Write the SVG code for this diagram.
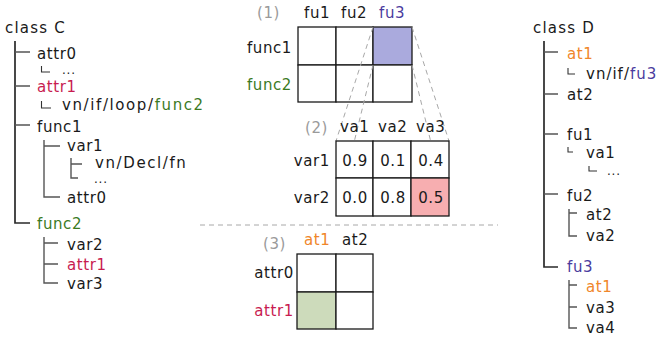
<svg xmlns="http://www.w3.org/2000/svg" width="661" height="340" viewBox="0 0 661 340">
  <style>
    text { font-family: "DejaVu Sans", "Liberation Sans", sans-serif; font-size: 15px; fill: #1a1a1a; letter-spacing: 0.6px; }
    .title { letter-spacing: 1.2px; }
    .path { letter-spacing: 1.6px; }
    .dots { font-size: 12px; letter-spacing: 0.8px; fill: #1a1a1a; }
    .tag { fill: #9a9a9a; }
    .red { fill: #c81c50; }
    .green { fill: #3b7a1f; }
    .purple { fill: #4a3b9e; }
    .orange { fill: #f0862a; }
    .end { text-anchor: end; }
    .mid { text-anchor: middle; }
    .trunk { fill: none; stroke: #2a2a2a; stroke-width: 1.7; }
    .branch { fill: none; stroke: #555; stroke-width: 1.4; }
    .elbow { fill: none; stroke: #333; stroke-width: 1.1; }
    .cell { fill: #fff; stroke: #1a1a1a; stroke-width: 1.3; }
    .proj { fill: none; stroke: #a8a8a8; stroke-width: 1; stroke-dasharray: 5 4; }
  </style>

  <!-- class C tree -->
  <g id="class-C">
    <text x="5" y="33" class="title">class C</text>
    <path class="trunk" d="M15,41 V223 H30"/>
    <path class="branch" d="M15,52 H30 M15,86 H30 M15,125 H30"/>
    <text x="37" y="59">attr0</text>
    <path class="elbow" d="M41.5,66 V72 H50"/>
    <text x="62" y="74" class="dots">...</text>
    <text x="37" y="92" class="red">attr1</text>
    <path class="elbow" d="M41.5,101 V108 H51"/>
    <text x="62" y="110" class="path">vn/if/loop/<tspan class="green">func2</tspan></text>
    <text x="37" y="132">func1</text>
    <path class="branch" d="M44,140 V197 H60 M44,146 H60"/>
    <text x="67" y="151">var1</text>
    <path class="branch" d="M71,158 V178 H78 M71,164 H82"/>
    <text x="95" y="168" class="path">vn/Decl/fn</text>
    <text x="94" y="183" class="dots">...</text>
    <text x="67" y="203">attr0</text>
    <text x="37" y="229" class="green">func2</text>
    <path class="branch" d="M44,237 V283 H58 M44,243 H58 M44,264 H58"/>
    <text x="67" y="250">var2</text>
    <text x="67" y="270" class="red">attr1</text>
    <text x="67" y="289">var3</text>
  </g>

  <!-- matrix (1): functions of C vs functions of D -->
  <g id="matrix-1">
    <text x="257" y="18" class="tag">(1)</text>
    <text x="304" y="18">fu1</text>
    <text x="341" y="18">fu2</text>
    <text x="379" y="18" class="purple">fu3</text>
    <text x="292" y="53" class="end">func1</text>
    <text x="292" y="90" class="end green">func2</text>
    <rect class="cell" x="298" y="27" width="38" height="38"/>
    <rect class="cell" x="336" y="27" width="37" height="38"/>
    <rect class="cell" x="373" y="27" width="39" height="38" style="fill:#aaaadd"/>
    <rect class="cell" x="298" y="65" width="38" height="37"/>
    <rect class="cell" x="336" y="65" width="37" height="37"/>
    <rect class="cell" x="373" y="65" width="39" height="37"/>
  </g>

  <!-- projection lines from the fu3 cell to matrix (2), and the separator -->
  <g id="connectors">
    <path class="proj" d="M373,27 L336,141 M373,65 L336,216 M412,27 L449,141 M412,65 L449,216"/>
    <path class="proj" d="M200,225 H498"/>
  </g>

  <!-- matrix (2): variables of func1 vs variables of fu3 -->
  <g id="matrix-2">
    <text x="305" y="133" class="tag">(2)</text>
    <text x="340" y="132">va1</text>
    <text x="378" y="132">va2</text>
    <text x="416" y="132">va3</text>
    <text x="330" y="166" class="end">var1</text>
    <text x="330" y="203" class="end">var2</text>
    <rect class="cell" x="336" y="141" width="37" height="37"/>
    <rect class="cell" x="373" y="141" width="38" height="37"/>
    <rect class="cell" x="411" y="141" width="38" height="37"/>
    <rect class="cell" x="336" y="178" width="37" height="38"/>
    <rect class="cell" x="373" y="178" width="38" height="38"/>
    <rect class="cell" x="411" y="178" width="38" height="38" style="fill:#f7aeb0"/>
    <text x="355" y="166" class="mid">0.9</text>
    <text x="393" y="166" class="mid">0.1</text>
    <text x="431" y="166" class="mid">0.4</text>
    <text x="355" y="203" class="mid">0.0</text>
    <text x="393" y="203" class="mid">0.8</text>
    <text x="431" y="203" class="mid">0.5</text>
  </g>

  <!-- matrix (3): attributes of C vs attributes of D -->
  <g id="matrix-3">
    <text x="263" y="249" class="tag">(3)</text>
    <text x="304" y="245" class="orange">at1</text>
    <text x="342" y="245">at2</text>
    <text x="294" y="278" class="end">attr0</text>
    <text x="294" y="316" class="end red">attr1</text>
    <rect class="cell" x="297" y="254" width="39" height="38"/>
    <rect class="cell" x="336" y="254" width="37" height="38"/>
    <rect class="cell" x="297" y="292" width="39" height="37" style="fill:#cddbbb"/>
    <rect class="cell" x="336" y="292" width="37" height="37"/>
  </g>

  <!-- class D tree -->
  <g id="class-D">
    <text x="533" y="33" class="title">class D</text>
    <path class="trunk" d="M544,41 V267 H558"/>
    <path class="branch" d="M544,52 H558 M544,94 H558 M544,134 H558 M544,194 H558"/>
    <text x="567" y="59" class="orange">at1</text>
    <path class="elbow" d="M568,68 V74 H575"/>
    <text x="586" y="79" style="letter-spacing:1px">vn/if/<tspan class="purple">fu3</tspan></text>
    <text x="567" y="100">at2</text>
    <text x="567" y="140">fu1</text>
    <path class="elbow" d="M568,147 V152 H573"/>
    <text x="586" y="158">va1</text>
    <path class="elbow" d="M589,166 V171 H597"/>
    <text x="607" y="175" class="dots">...</text>
    <text x="567" y="201">fu2</text>
    <path class="branch" d="M569,209 V236 H577 M569,213 H577"/>
    <text x="586" y="220">at2</text>
    <text x="586" y="241">va2</text>
    <text x="567" y="272" class="purple">fu3</text>
    <path class="branch" d="M569,280 V328 H577 M569,285 H577 M569,307 H577"/>
    <text x="586" y="292" class="orange">at1</text>
    <text x="586" y="313">va3</text>
    <text x="586" y="333">va4</text>
  </g>
</svg>
